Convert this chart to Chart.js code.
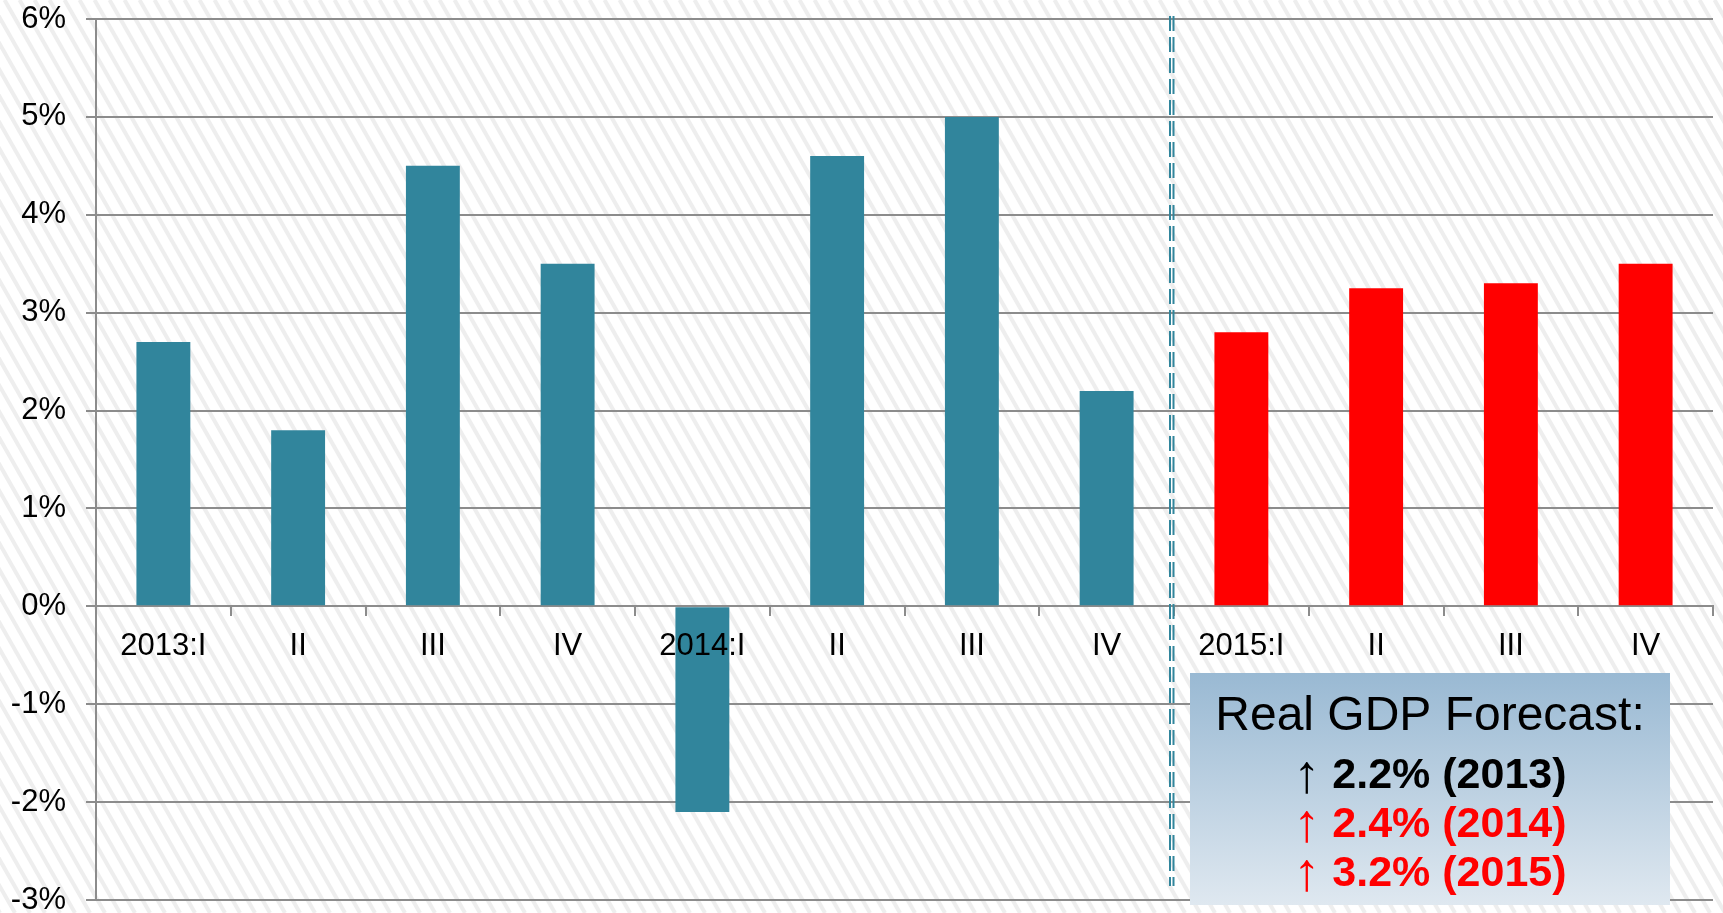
<!DOCTYPE html>
<html>
<head>
<meta charset="utf-8">
<script src="https://cdn.jsdelivr.net/npm/chart.js@4.4.1/dist/chart.umd.min.js"></script>
<style>
  html, body { margin: 0; padding: 0; overflow: hidden; background: #fff; }
  canvas { display: block; }
</style>
</head>
<body>
<canvas id="gdpChart" width="1723" height="913"></canvas>
<script>
// trimestres y valores (crecimiento PIB real, % anualizado)
const quarters = ['2013:I', 'II', 'III', 'IV', '2014:I', 'II', 'III', 'IV', '2015:I', 'II', 'III', 'IV'];
const actualGrowth = [2.7, 1.8, 4.5, 3.5, -2.1, 4.6, 5.0, 2.2];
const forecastGrowth = [2.8, 3.25, 3.3, 3.5];

// eje y
const yMin = -3;
const yMax = 6;
const yStep = 1;

// recuadro del pronostico
const boxTitle = 'Real GDP Forecast:';
const forecastYears = ['2013', '2014', '2015'];
const forecastAnnual = [2.2, 2.4, 3.2];

const FONT = '"Liberation Sans", Arial, sans-serif';
const TEAL = '#31859c';
const GRID = '#8c8c8c';

// fondo rayado diagonal
const stripesBg = {
  id: 'stripesBg',
  beforeDraw(chart) {
    const c = chart.ctx;
    const w = chart.width, h = chart.height;
    c.save();
    c.fillStyle = '#ffffff';
    c.fillRect(0, 0, w, h);
    c.strokeStyle = '#eeeeee';
    c.lineWidth = 4;
    const slope = 0.57;
    for (let x = -h * slope; x < w + 20; x += 15) {
      c.beginPath();
      c.moveTo(x, 0);
      c.lineTo(x + h * slope, h);
      c.stroke();
    }
    c.restore();
  }
};

// linea discontinua doble + recuadro
const forecastMarks = {
  id: 'forecastMarks',
  afterDraw(chart) {
    const c = chart.ctx;
    const x = chart.scales.x;
    const area = chart.chartArea;
    const split = (x.getPixelForValue(actualGrowth.length - 1) + x.getPixelForValue(actualGrowth.length)) / 2;

    c.save();
    c.strokeStyle = TEAL;
    c.lineWidth = 2;
    c.setLineDash([15, 6]);
    [split - 4, split - 0.5].forEach(px => {
      c.beginPath();
      c.moveTo(px, area.top - 3);
      c.lineTo(px, 886);
      c.stroke();
    });
    c.setLineDash([]);

    // recuadro
    const bx = 1190, by = 673, bw = 480, bh = 232;
    const grad = c.createLinearGradient(0, by, 0, by + bh);
    grad.addColorStop(0, '#99b9d3');
    grad.addColorStop(1, '#dfe8f0');
    c.fillStyle = grad;
    c.fillRect(bx, by, bw, bh);

    const cx = bx + bw / 2;
    c.textBaseline = 'alphabetic';
    c.textAlign = 'center';
    c.fillStyle = '#000';
    c.font = '48px ' + FONT;
    c.fillText(boxTitle, cx, 730);

    const baselines = [788, 837, 886];
    forecastYears.forEach((yr, i) => {
      const color = i === 0 ? '#000' : '#ff0000';
      const arrow = '\u2191';
      const txt = ' ' + forecastAnnual[i].toFixed(1) + '% (' + yr + ')';
      c.font = '54px ' + FONT;
      const aw = c.measureText(arrow).width;
      c.font = 'bold 43px ' + FONT;
      const tw = c.measureText(txt).width;
      let sx = cx - (aw + tw) / 2;
      c.textAlign = 'left';
      c.fillStyle = color;
      c.font = '54px ' + FONT;
      c.fillText(arrow, sx, baselines[i] + 4);
      c.font = 'bold 43px ' + FONT;
      c.fillText(txt, sx + aw, baselines[i]);
    });
    c.restore();
  }
};

const ctx = document.getElementById('gdpChart').getContext('2d');

const gdpChart = new Chart(ctx, {
  type: 'bar',
  data: {
    labels: quarters,
    datasets: [{
      data: actualGrowth.concat(forecastGrowth),
      backgroundColor: (c) => c.dataIndex < actualGrowth.length ? TEAL : '#ff0000',
      borderWidth: 0,
      categoryPercentage: 1,
      barPercentage: 0.4
    }]
  },
  options: {
    responsive: false,
    animation: false,
    layout: { padding: { top: 19, bottom: 13, left: 0, right: 10 } },
    plugins: {
      legend: { display: false },
      tooltip: { enabled: false }
    },
    scales: {
      x: {
        position: { y: 0 },
        grid: {
          drawOnChartArea: false,
          drawTicks: true,
          tickLength: 9,
          color: GRID,
          lineWidth: 2
        },
        border: { display: true, color: GRID, width: 2 },
        ticks: {
          z: 1,
          color: '#000',
          padding: 13,
          maxRotation: 0,
          autoSkip: false,
          font: { family: FONT, size: 31 }
        },
        afterFit(scale) {
          scale.paddingLeft = 0;
          scale.paddingRight = 0;
        }
      },
      y: {
        min: yMin,
        max: yMax,
        grid: {
          color: GRID,
          lineWidth: 2,
          tickLength: 10
        },
        border: { display: true, color: GRID, width: 2 },
        ticks: {
          stepSize: yStep,
          color: '#000',
          padding: 20,
          font: { family: FONT, size: 31 },
          callback: (v) => v + '%'
        },
        afterFit(scale) {
          scale.width = 96;
          scale.paddingTop = 0;
          scale.paddingBottom = 0;
        }
      }
    }
  },
  plugins: [stripesBg, forecastMarks]
});
</script>
</body>
</html>
